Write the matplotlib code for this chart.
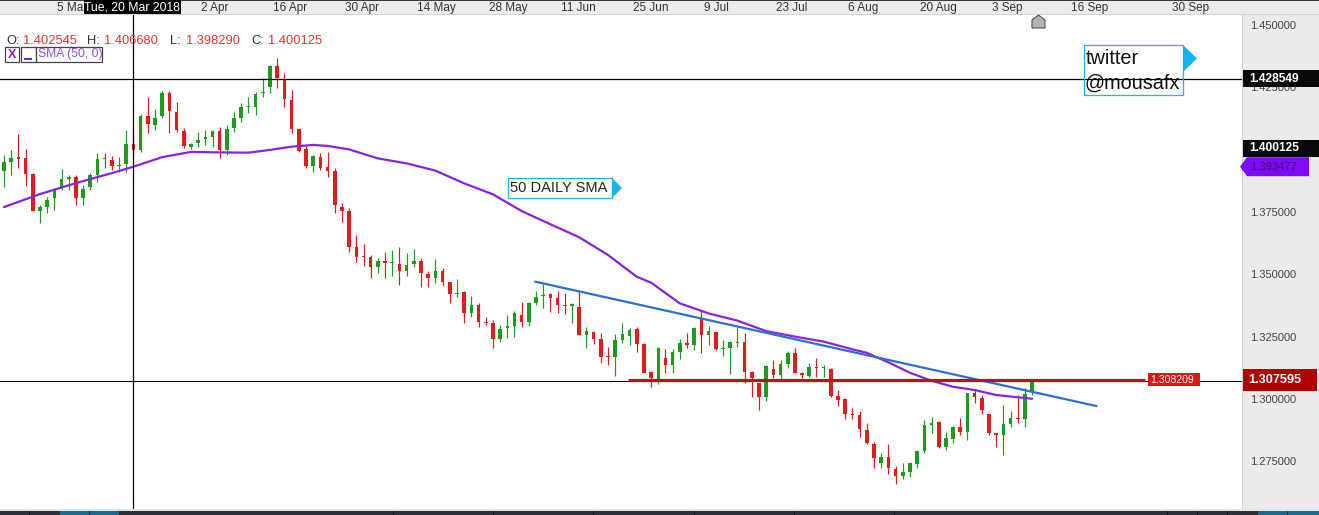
import matplotlib
matplotlib.use("Agg")
import matplotlib.pyplot as plt
import matplotlib.patches as mpatches
import matplotlib.transforms as mtrans
import numpy as np
import pandas as pd

# daily GBPUSD candles, 22 Feb 2018 .. 11 Sep 2018
opens = [1.3919, 1.3955, 1.3975, 1.3968, 1.3905, 1.3759, 1.3772, 1.3811, 1.3855, 1.3885,
         1.3892, 1.3811, 1.3852, 1.3901, 1.3971, 1.3962, 1.3938, 1.3944, 1.402545, 1.4002,
         1.4138, 1.4102, 1.4139, 1.4229, 1.4155, 1.4078, 1.4015, 1.4031, 1.4044, 1.4052,
         1.4078, 1.4002, 1.4091, 1.4131, 1.4173, 1.4175, 1.4229, 1.4253, 1.4340, 1.4286,
         1.4202, 1.4086, 1.4004, 1.3938, 1.3975, 1.3932, 1.3919, 1.3775, 1.3757, 1.3614,
         1.3577, 1.3574, 1.3534, 1.3557, 1.3548, 1.3545, 1.3518, 1.3545, 1.3557, 1.3505,
         1.3487, 1.3517, 1.3471, 1.3425, 1.3431, 1.3347, 1.3381, 1.3314, 1.3310, 1.3243,
         1.3287, 1.3296, 1.3341, 1.3314, 1.3390, 1.3417, 1.3423, 1.3407, 1.3381, 1.3378,
         1.3372, 1.3260, 1.3274, 1.3244, 1.3176, 1.3174, 1.3240, 1.3258, 1.3283, 1.3224,
         1.3114, 1.3080, 1.3167, 1.3140, 1.3194, 1.3230, 1.3220, 1.3327, 1.3260, 1.3274,
         1.3206, 1.3207, 1.3227, 1.3234, 1.3114, 1.3069, 1.3013, 1.3124, 1.3100, 1.3143,
         1.3190, 1.3107, 1.3096, 1.3134, 1.3127, 1.3123, 1.3016, 1.3003, 1.2944, 1.2940,
         1.2880, 1.2824, 1.2749, 1.2773, 1.2722, 1.2697, 1.2713, 1.2744, 1.2797, 1.2900,
         1.2913, 1.2813, 1.2842, 1.2890, 1.2873, 1.3027, 1.3007, 1.2943, 1.2866, 1.2860,
         1.2904, 1.2927, 1.2923, 1.3037]
highs = [1.3982, 1.4002, 1.4066, 1.4004, 1.3908, 1.3781, 1.3815, 1.3848, 1.3926, 1.3901,
         1.3901, 1.3861, 1.3908, 1.3988, 1.3988, 1.3978, 1.3975, 1.4082, 1.40668, 1.4146,
         1.4215, 1.4165, 1.4238, 1.4238, 1.4195, 1.4088, 1.4031, 1.4075, 1.4082, 1.4082,
         1.4092, 1.4102, 1.4155, 1.4189, 1.4215, 1.4235, 1.4289, 1.4342, 1.4369, 1.4309,
         1.4242, 1.4086, 1.4018, 1.3982, 1.3988, 1.3995, 1.3928, 1.3791, 1.3768, 1.3661,
         1.3625, 1.3581, 1.3568, 1.3594, 1.3601, 1.3612, 1.3588, 1.3605, 1.3568, 1.3517,
         1.3564, 1.3528, 1.3474, 1.3483, 1.3437, 1.3418, 1.3387, 1.3334, 1.3321, 1.3300,
         1.3341, 1.3357, 1.3391, 1.3394, 1.3437, 1.3465, 1.3430, 1.3437, 1.3427, 1.3387,
         1.3440, 1.3294, 1.3276, 1.3270, 1.3211, 1.3264, 1.3310, 1.3287, 1.3291, 1.3227,
         1.3118, 1.3214, 1.3203, 1.3203, 1.3243, 1.3267, 1.3291, 1.3358, 1.3296, 1.3276,
         1.3240, 1.3238, 1.3291, 1.3267, 1.3118, 1.3069, 1.3140, 1.3160, 1.3160, 1.3198,
         1.3207, 1.3114, 1.3150, 1.3167, 1.3140, 1.3127, 1.3040, 1.3007, 1.2967, 1.2957,
         1.2907, 1.2833, 1.2789, 1.2822, 1.2736, 1.2746, 1.2753, 1.2800, 1.2920, 1.2931,
         1.2916, 1.2873, 1.2896, 1.2927, 1.3029, 1.3040, 1.3020, 1.2944, 1.2869, 1.2980,
         1.2956, 1.3020, 1.3047, 1.3080]
lows = [1.3855, 1.3901, 1.3928, 1.3859, 1.3757, 1.3708, 1.3751, 1.3761, 1.3841, 1.3841,
        1.3781, 1.3781, 1.3841, 1.3875, 1.3928, 1.3921, 1.3915, 1.3915, 1.39829, 1.3995,
        1.4068, 1.4082, 1.4128, 1.4068, 1.4075, 1.4008, 1.4004, 1.4015, 1.4022, 1.4015,
        1.3968, 1.3982, 1.4075, 1.4115, 1.4149, 1.4142, 1.4215, 1.4229, 1.4249, 1.4175,
        1.4068, 1.3995, 1.3928, 1.3915, 1.3921, 1.3895, 1.3748, 1.3714, 1.3594, 1.3554,
        1.3537, 1.3487, 1.3510, 1.3487, 1.3497, 1.3461, 1.3498, 1.3534, 1.3451, 1.3454,
        1.3470, 1.3457, 1.3390, 1.3414, 1.3307, 1.3334, 1.3294, 1.3300, 1.3207, 1.3234,
        1.3247, 1.3251, 1.3294, 1.3298, 1.3381, 1.3367, 1.3354, 1.3347, 1.3343, 1.3307,
        1.3259, 1.3210, 1.3224, 1.3150, 1.3140, 1.3096, 1.3230, 1.3220, 1.3194, 1.3107,
        1.3051, 1.3064, 1.3110, 1.3110, 1.3163, 1.3207, 1.3200, 1.3190, 1.3220, 1.3200,
        1.3176, 1.3104, 1.3214, 1.3069, 1.3013, 1.2960, 1.2997, 1.3087, 1.3080, 1.3127,
        1.3107, 1.3087, 1.3093, 1.3091, 1.3093, 1.3013, 1.2976, 1.2923, 1.2923, 1.2853,
        1.2824, 1.2726, 1.2726, 1.2704, 1.2662, 1.2682, 1.2693, 1.2726, 1.2789, 1.2866,
        1.2806, 1.2800, 1.2826, 1.2860, 1.2840, 1.2987, 1.2944, 1.2860, 1.2810, 1.2780,
        1.2890, 1.2909, 1.2893, 1.3020]
closes = [1.3955, 1.3968, 1.3967, 1.3905, 1.3759, 1.3772, 1.3801, 1.3844, 1.3884, 1.3895,
          1.3811, 1.3844, 1.3901, 1.3966, 1.3966, 1.3938, 1.3942, 1.4024, 1.400125, 1.4138,
          1.4106, 1.4128, 1.4229, 1.4159, 1.4082, 1.4019, 1.4024, 1.4042, 1.4055, 1.4078,
          1.4002, 1.4086, 1.4128, 1.4175, 1.4178, 1.4226, 1.4235, 1.4340, 1.4289, 1.4205,
          1.4084, 1.3999, 1.3939, 1.3978, 1.3928, 1.3919, 1.3781, 1.3759, 1.3614, 1.3574,
          1.3574, 1.3534, 1.3557, 1.3548, 1.3550, 1.3518, 1.3541, 1.3557, 1.3507, 1.3487,
          1.3517, 1.3471, 1.3425, 1.3427, 1.3347, 1.3381, 1.3311, 1.3310, 1.3243, 1.3283,
          1.3296, 1.3347, 1.3314, 1.3390, 1.3414, 1.3421, 1.3407, 1.3381, 1.3377, 1.3383,
          1.3262, 1.3276, 1.3244, 1.3174, 1.3174, 1.3240, 1.3264, 1.3280, 1.3224, 1.3110,
          1.3087, 1.3210, 1.3140, 1.3194, 1.3230, 1.3220, 1.3287, 1.3260, 1.3276, 1.3203,
          1.3210, 1.3234, 1.3234, 1.3114, 1.3087, 1.3013, 1.3136, 1.3100, 1.3143, 1.3190,
          1.3110, 1.3100, 1.3131, 1.3127, 1.3130, 1.3016, 1.3000, 1.2944, 1.2940, 1.2882,
          1.2826, 1.2769, 1.2773, 1.2726, 1.2697, 1.2710, 1.2749, 1.2797, 1.2900, 1.2909,
          1.2810, 1.2846, 1.2893, 1.2873, 1.3027, 1.3011, 1.2960, 1.2869, 1.2860, 1.2904,
          1.2929, 1.2923, 1.3024, 1.307595]

# 50 day SMA (bar index, value)
sma_idx = [0, 5, 10, 15, 18, 22, 26, 30, 34, 37, 40, 43, 45, 48, 52, 56, 60, 64, 68, 72,
           76, 80, 84, 88, 90, 94, 98, 102, 106, 110, 114, 118, 120, 123, 126, 129, 132,
           135, 138, 141, 143]
sma_val = [1.3773, 1.3825, 1.3869, 1.3909, 1.393477, 1.3973, 1.3994, 1.3992, 1.3991, 1.4002,
           1.4015, 1.4022, 1.4018, 1.4004, 1.3968, 1.3948, 1.3919, 1.3868, 1.3824, 1.3757,
           1.3704, 1.3652, 1.3581, 1.3494, 1.3470, 1.3387, 1.3347, 1.3318, 1.3276, 1.3254,
           1.3234, 1.3203, 1.3189, 1.3151, 1.3109, 1.3077, 1.3053, 1.3040, 1.3020, 1.3011,
           1.3005]

date_ticks = ["2018-03-05", "2018-04-02", "2018-04-16", "2018-04-30", "2018-05-14",
              "2018-05-28", "2018-06-11", "2018-06-25", "2018-07-09", "2018-07-23",
              "2018-08-06", "2018-08-20", "2018-09-03"]
future_labels = ["16 Sep", "30 Sep"]
future_pos = [148.0, 162.0]

# price scale labels that show (1.400000 sits under the close box)
yticks = [1.275, 1.300, 1.325, 1.350, 1.375, 1.425, 1.450]

header = [("O:", "1.402545"), ("H:", "1.406680"), ("L:", "1.398290"), ("C:", "1.400125")]
cross_idx = 18
cross_price = 1.428549
last_price = 1.307595
sma_at_cross = 1.393477
close_at_cross = 1.400125
hline_price = 1.308209
hline_span = (86.8, 158.7)
trend_x = [73.9, 151.9]
trend_y = [1.3474, 1.2976]

plt.rcParams["font.family"] = ["Liberation Sans", "DejaVu Sans"]

W, H = 1319, 515
GREEN = "#1c9c1c"
RED = "#e31b1b"
CYAN = "#22b4e6"

O = np.array(opens); Hh = np.array(highs); L = np.array(lows); C = np.array(closes)
n = len(C)
dates = pd.bdate_range("2018-02-22", periods=n)

fig = plt.figure(figsize=(W / 100, H / 100), dpi=100)
fig.patch.set_facecolor("white")


def fx(x):
    return x / W


def fy(y):
    return 1 - y / H


def prect(x0, y0, w, h, **kw):
    r = mpatches.Rectangle((fx(x0), fy(y0 + h)), w / W, h / H, transform=fig.transFigure, **kw)
    fig.add_artist(r)
    return r


def ppoly(pts, **kw):
    p = mpatches.Polygon([(fx(a), fy(b)) for a, b in pts], closed=True,
                         transform=fig.transFigure, **kw)
    fig.add_artist(p)
    return p


ax = fig.add_axes([0, fy(509), fx(1243), fy(15) - fy(509)])
YLO, YHI = 1.25633, 1.45425
ax.set_xlim(-0.556, 172.32)
ax.set_ylim(YLO, YHI)
ax.axis("off")


def price_px(p):
    return 15 + (YHI - p) / (YHI - YLO) * 494


# candles
x = np.arange(n)
cols = np.where(C >= O, GREEN, RED)
ax.vlines(x, L, Hh, colors=cols, lw=0.85, zorder=3)
body_lo = np.minimum(O, C)
body_h = np.maximum(np.abs(C - O), 0.0004)
ax.bar(x, body_h, bottom=body_lo, width=0.5, color=cols, lw=0, zorder=4)

# sma, trend line, horizontal level
ax.plot(sma_idx, sma_val, color="#8a22e6", lw=1.6, zorder=5, solid_capstyle="round")
ax.plot(trend_x, trend_y, color="#2b6fdc", lw=1.6, zorder=5)
ax.hlines(hline_price, hline_span[0], hline_span[1], color="#b3171b", lw=2.3, zorder=5)

# crosshair and last price line
ax.axhline(last_price, color="black", lw=0.8, zorder=2)
ax.axhline(cross_price, color="black", lw=0.9, zorder=6)
ax.axvline(cross_idx, color="black", lw=0.9, zorder=6)

# top date band
prect(0, 0, W, 15, fc="#ececec", ec="none", zorder=1)
prect(0, 0, W, 1, fc="#3a3a3a", ec="none", zorder=1)
prect(0, 14, W, 1.2, fc="#d4d4d4", ec="none", zorder=1)
band_tr = mtrans.blended_transform_factory(ax.transData, fig.transFigure)
tick_pos = [dates.get_loc(pd.Timestamp(d)) for d in date_ticks]
tick_lab = [f"{pd.Timestamp(d).day} {pd.Timestamp(d).strftime('%b')}" for d in date_ticks]
for p, lab in zip(tick_pos + future_pos, tick_lab + future_labels):
    fig.text(p + 0.42, fy(7.8), lab, transform=band_tr, ha="left", va="center",
             fontsize=8.5, color="#333333", zorder=2)

# crosshair date box
prect(84, 0, 97, 14, fc="black", ec="none", zorder=5)
fig.text(fx(132.5), fy(7.3), dates[cross_idx].strftime("%a, %d %b %Y"), ha="center",
         va="center", fontsize=8.8, color="white", zorder=6)

# right price panel
prect(1243, 15, W - 1243, 494, fc="#ebebeb", ec="none", zorder=1)
prect(1242, 15, 1.2, 494, fc="#d0d0d0", ec="none", zorder=1)
ytr = mtrans.blended_transform_factory(fig.transFigure, ax.transData)
for p in yticks:
    fig.text(fx(1250), p, f"{p:.6f}", transform=ytr, va="center", ha="left",
             fontsize=8, color="#444444", zorder=2)

# crosshair price (horizontal line) label
yc = price_px(cross_price)
prect(1243, yc - 9, 76, 17, fc="#0a0a0a", ec="none", zorder=3)
fig.text(fx(1249), fy(yc - 0.5), f"{cross_price:.6f}", va="center", ha="left", fontsize=8.6,
         fontweight="bold", color="white", zorder=4)

# close at crosshair, sits just above the sma pointer
yc = price_px(sma_at_cross)
prect(1243, yc - 27, 76, 17, fc="#0a0a0a", ec="none", zorder=3)
fig.text(fx(1249), fy(yc - 18.5), f"{close_at_cross:.6f}", va="center", ha="left",
         fontsize=8.6, fontweight="bold", color="white", zorder=4)

ppoly([(1240, yc), (1247, yc - 9.5), (1309, yc - 9.5), (1309, yc + 9.5), (1247, yc + 9.5)],
      fc="#7d0cf5", ec="none", zorder=3)
fig.text(fx(1250), fy(yc + 0.5), f"{sma_at_cross:.6f}", va="center", ha="left", fontsize=8.1,
         color="#3a1070", zorder=4)

yc = price_px(last_price)
prect(1243, yc - 12, 74, 22, fc="#b00000", ec="none", zorder=3)
fig.text(fx(1248), fy(yc - 1), f"{last_price:.6f}", va="center", ha="left", fontsize=9.2,
         fontweight="bold", color="white", zorder=4)

yc = price_px(hline_price)
prect(1148, yc - 6.5, 52, 13, fc="#e01515", ec="none", zorder=5)
fig.text(fx(1150), fy(yc), f"{hline_price:.6f}", va="center", ha="left", fontsize=7.6,
         color="white", zorder=6)

# header readout
hx = [(6, 23), (87, 104), (170, 186), (251, 268)]
for (k, v), (x0, x1) in zip(header, hx):
    fig.text(fx(x0), fy(41), k, va="center", ha="left", fontsize=9.3, color="#333333", zorder=3)
    fig.text(fx(x1), fy(41), v, va="center", ha="left", fontsize=9.3, color="#e3362f", zorder=3)

# SMA legend row
prect(5, 47, 14, 15, fc="white", ec="#444444", lw=0.9, zorder=3)
fig.text(fx(12), fy(54.5), "X", ha="center", va="center", fontsize=9, fontweight="bold",
         color="#7a22d6", zorder=4)
prect(21, 47, 15, 15, fc="white", ec="#444444", lw=0.9, zorder=3)
prect(24, 57.5, 8, 2, fc="#7a22d6", ec="none", zorder=4)
prect(36, 47, 66, 15, fc="white", ec="#444444", lw=0.9, zorder=3)
fig.text(fx(38), fy(54.5), "SMA (50, 0)", ha="left", va="center", fontsize=8.7,
         color="#8a50e0", zorder=4)

# annotations
prect(508, 178, 104, 20, fc="white", ec=CYAN, lw=0.9, zorder=7)
fig.text(fx(510), fy(188), "50 DAILY SMA", ha="left", va="center", fontsize=10.5,
         color="#222222", zorder=8)
ppoly([(612, 178), (622, 188), (612, 198)], fc="#10b6f2", ec="none", zorder=7)

prect(1084, 45, 99, 50, fc="none", ec=CYAN, lw=0.9, zorder=7)
fig.text(fx(1086), fy(58), "twitter", ha="left", va="center", fontsize=14.3,
         color="#111111", zorder=8)
fig.text(fx(1085), fy(83), "@mousafx", ha="left", va="center", fontsize=14.3,
         color="#111111", zorder=8)
ppoly([(1183, 45), (1197, 58.5), (1183, 72)], fc="#10b6f2", ec="none", zorder=7)

# home marker
ppoly([(1032, 28), (1045, 28), (1045, 20), (1038.5, 15), (1032, 20)], fc="#b4b4b4",
      ec="#555555", lw=0.8, zorder=7)

# bottom strip
prect(0, 509, W, 2, fc="#e4e4e4", ec="none", zorder=1)
prect(0, 511, W, 4, fc="#2c3139", ec="none", zorder=2)
for bx, bw in [(60, 29), (90, 29), (1258, 29), (1288, 31)]:
    prect(bx, 511, bw, 4, fc="#1d6a91", ec="none", zorder=3)
for sx in [29, 393, 493, 593, 694, 794, 894, 1167, 1197, 1227]:
    prect(sx, 511, 1, 4, fc="#101214", ec="none", zorder=3)

fig.savefig("out.png", dpi=100)
